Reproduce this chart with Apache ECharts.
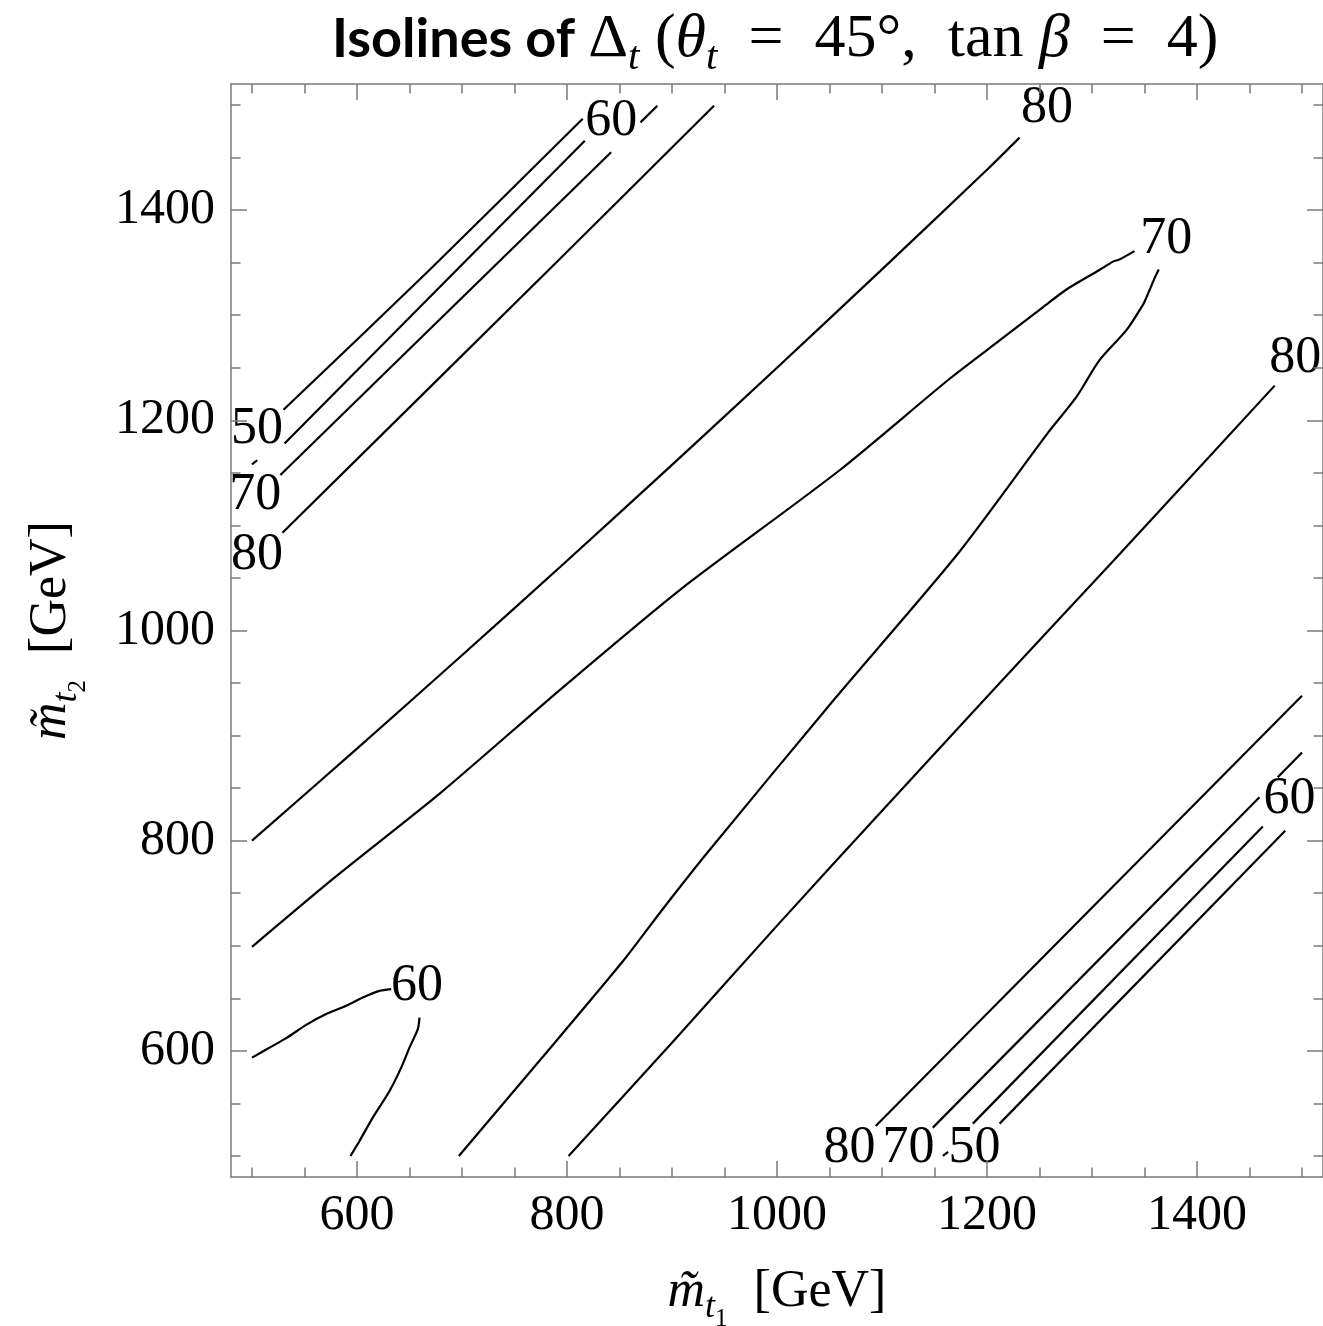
<!DOCTYPE html>
<html>
<head>
<meta charset="utf-8">
<script src="https://cdn.jsdelivr.net/npm/echarts@6/dist/echarts.min.js"></script>
<style>
html,body{margin:0;padding:0;background:#fff;}
#chart{width:1323px;height:1326px;}
</style>
</head>
<body>
<div id="chart"></div>
<script>
// ---- axis ticks ----
const majorTicks = [600, 800, 1000, 1200, 1400];
const minorTicks = [500, 550, 600, 650, 700, 750, 800, 850, 900, 950, 1000, 1050, 1100, 1150, 1200, 1250, 1300, 1350, 1400, 1450, 1500];

// ---- contour lines (each: list of visible segments, [m_t1, m_t2] in GeV) ----
const ul50 = [[[530, 1210], [669, 1343], [815, 1487]]];
const ul60 = [[[500, 1158], [505, 1162]], [[531, 1178], [817, 1466]]];
const ul70 = [[[527, 1148], [842, 1455]], [[870, 1483.5], [886, 1499.3]]];
const ul80 = [[[529, 1093], [783, 1343.5], [940, 1499.3]]];
const upper80 = [[[500, 800], [600, 887.6], [700, 976.4], [800, 1066.4], [900, 1157.6], [1000, 1250], [1100, 1343.6], [1200, 1438.4], [1231, 1469]]];
const upper70 = [[[500, 699], [580, 766], [679, 845], [795, 945], [908, 1039], [1059, 1152], [1165, 1240], [1212, 1276], [1250, 1305], [1275, 1324], [1307, 1343], [1320, 1351], [1326, 1353], [1340.5, 1361]]];
const lower70 = [[[1363.6, 1343.5], [1360.6, 1337.4], [1355.8, 1326.3], [1351, 1315], [1348, 1309], [1333, 1286], [1307, 1257], [1285, 1222], [1258, 1188], [1173, 1074], [1055, 935], [934, 789], [892, 736], [853, 685], [775, 592], [697, 500]]];
const lower80 = [[[801.5, 500], [903, 611], [999, 718], [1106, 835], [1213, 951], [1320, 1066], [1474, 1233]]];
const ll60 = [
  [[500, 593.6], [516.7, 603.1], [532.6, 612.1], [551.6, 624.8], [570.7, 635], [589.7, 642.9], [605.5, 650.8], [621.4, 657.1], [632.6, 658.8]],
  [[659.5, 631.7], [657.9, 620.7], [650, 603.1], [642.1, 584.1], [631, 561.9], [615, 536.5], [602.4, 514.3], [593.8, 500]]
];
const lr80 = [[[1094, 528.6], [1500, 938]]];
const lr70 = [[[1148.4, 527], [1459.5, 841.3]], [[1476.9, 860.3], [1500, 884]]];
const lr60 = [[[1158, 500], [1163, 504]], [[1186.5, 530.8], [1462.7, 813.6]]];
const lr50 = [[[1212, 530.8], [1484, 809.5]]];

// ---- contour labels ----
const labelText = ['50', '70', '80', '60', '80', '70', '80', '60', '60', '80', '70', '50'];
const labelX = [504.8, 503.1, 504.8, 842.1, 1257.1, 1370.7, 1493.6, 657.1, 1488.1, 1069.0, 1125.2, 1188.1];
const labelY = [1191.2, 1128.6, 1071.4, 1484.1, 1496.8, 1372.2, 1258.7, 661.1, 839.7, 507.1, 507.1, 507.1];

const contours = [ul50, ul60, ul70, ul80, upper80, upper70, lower70, lower80, ll60, lr80, lr70, lr60, lr50];

const series = [];
contours.forEach(c => c.forEach(seg => {
  series.push({
    type: 'line', data: seg, xAxisIndex: 0, yAxisIndex: 0,
    showSymbol: false, symbol: 'none', silent: true, animation: false, z: 2,
    smooth: 0.25,
    lineStyle: { color: '#000', width: 2.2 }
  });
}));
series.push({
  type: 'scatter', xAxisIndex: 0, yAxisIndex: 0, symbol: 'circle', symbolSize: 0, silent: true, animation: false, z: 5,
  itemStyle: { color: '#000' },
  data: labelText.map((t, i) => [labelX[i], labelY[i], t]),
  label: { show: true, position: 'inside', formatter: p => p.value[2], opacity: 1,
           fontFamily: 'Liberation Serif', fontSize: 52, color: '#000', textBorderWidth: 0 }
});

const frameColor = '#7a7a7a';
const serif = 'Liberation Serif';
function mkAxis(pos, ticks, len, showLine, extra) {
  return Object.assign({
    type: 'value', position: pos, min: 480, max: 1520, z: 10,
    axisLine: { show: showLine, onZero: false, lineStyle: { color: frameColor, width: 1.5 } },
    axisTick: { show: true, inside: true, length: len, customValues: ticks, lineStyle: { color: frameColor, width: 1.5 } },
    axisLabel: { show: false },
    splitLine: { show: false }
  }, extra || {});
}

const nameRich = {
  m: { fontFamily: serif, fontStyle: 'italic', fontSize: 52, color: '#000' },
  s: { fontFamily: serif, fontStyle: 'italic', fontSize: 36, color: '#000', padding: [30, 0, 0, 0] },
  ss: { fontFamily: serif, fontSize: 25, color: '#000', padding: [54, 0, 0, 0] },
  n: { fontFamily: serif, fontSize: 52, color: '#000' }
};

const tickLabel = { show: true, customValues: majorTicks, formatter: v => String(v),
                    fontFamily: serif, fontSize: 50, color: '#000' };

const option = {
  animation: false,
  backgroundColor: '#fff',
  title: {
    text: '{a|Isolines of }{b|Δ}{s|t}{b| (}{i|θ}{s|t}{b|  =  45°,  tan }{i|β}{b|  =  4)}',
    left: 327, top: -4,
    textStyle: {
      fontWeight: 'normal',
      rich: {
        a: { fontFamily: 'Lato', fontWeight: 'bold', fontSize: 54, color: '#000' },
        b: { fontFamily: serif, fontWeight: 'normal', fontSize: 62, color: '#000' },
        i: { fontFamily: serif, fontWeight: 'normal', fontStyle: 'italic', fontSize: 62, color: '#000' },
        s: { fontFamily: serif, fontWeight: 'normal', fontStyle: 'italic', fontSize: 41, color: '#000', padding: [37, 0, 0, 0] }
      }
    }
  },
  grid: { left: 231, right: 0, top: 84, bottom: 149, containLabel: false, outerBoundsMode: 'none' },
  xAxis: [
    mkAxis('bottom', majorTicks, 16, true, {
      axisLabel: Object.assign({ margin: 14 }, tickLabel),
      name: '{m|m\u0303}{s|t}{ss|1}{n|  [GeV]}', nameLocation: 'middle', nameGap: 76,
      nameTextStyle: { rich: nameRich }
    }),
    mkAxis('bottom', minorTicks, 9.5, false),
    mkAxis('top', majorTicks, 16, true),
    mkAxis('top', minorTicks, 9.5, false)
  ],
  yAxis: [
    mkAxis('left', majorTicks, 16, true, {
      axisLabel: Object.assign({ margin: 16 }, tickLabel),
      name: '{m|m\u0303}{s|t}{ss|2}{n|  [GeV]}', nameLocation: 'middle', nameGap: 140,
      nameTextStyle: { rich: nameRich }
    }),
    mkAxis('left', minorTicks, 9.5, false),
    mkAxis('right', majorTicks, 16, true),
    mkAxis('right', minorTicks, 9.5, false)
  ],
  series: series
};

const chart = echarts.init(document.getElementById('chart'), null, { renderer: 'canvas' });
chart.setOption(option);
</script>
</body>
</html>
